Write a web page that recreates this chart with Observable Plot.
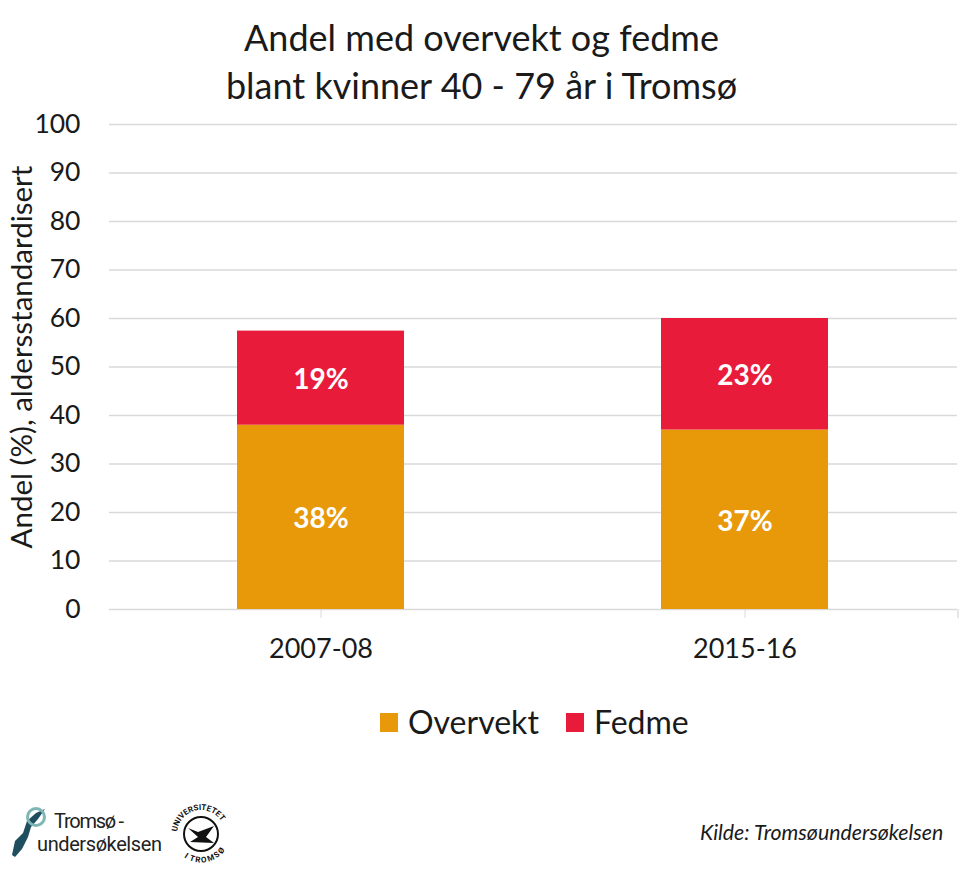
<!DOCTYPE html>
<html><head><meta charset="utf-8">
<script src="https://cdn.jsdelivr.net/npm/d3@7"></script>
<script src="https://cdn.jsdelivr.net/npm/@observablehq/plot@0.6"></script>
<style>
html,body{margin:0;padding:0;background:#fff;}
body{width:970px;height:873px;position:relative;overflow:hidden;font-family:Lato,sans-serif;color:#1a1a1a;}
#title{position:absolute;left:0;top:13px;width:963px;text-align:center;font-size:36px;line-height:48px;}
#chart{position:absolute;left:0;top:110px;}
#legend{position:absolute;top:704px;left:0;height:36px;width:970px;font-size:32px;line-height:36px;}
#legend span{position:absolute;white-space:nowrap;}
#legend i{position:absolute;width:18px;height:19px;top:9px;}
#source{position:absolute;left:700px;top:819px;font-size:21.3px;font-style:italic;white-space:nowrap;}
#logo{position:absolute;left:0;top:795px;}
</style></head><body>
<div id="title">Andel med overvekt og fedme<br>blant kvinner 40 - 79 år i Tromsø</div>
<div id="chart"></div>
<div id="legend"></div>
<div id="logo">
<svg width="240" height="75" viewBox="0 0 240 75" font-family="Roboto, sans-serif">
<path d="M12 60 L15 46 L23 38 L27 26 L36 18 L45 14 L38 24 L31 32 L28 42 L22 54 L15 62 Z" fill="#1f4e5f"/>
<circle cx="36" cy="22" r="8.5" fill="none" stroke="#7fb5b5" stroke-width="3"/>
<text x="54" y="33" font-size="20" textLength="70" fill="#222">Tromsø -</text>
<text x="37" y="56" font-size="20" textLength="125" fill="#222">undersøkelsen</text>
<circle cx="201" cy="39" r="17" fill="none" stroke="#111" stroke-width="2"/>
<path d="M188 33 L198 37 L214 31 L206 42 L214 48 L190 47 L198 42 Z" fill="#111"/>
<path id="sealArc" d="M177 39 A24 24 0 1 1 225 39" fill="none"/>
<path id="sealArc2" d="M181 50 A23 23 0 0 0 221 50" fill="none"/>
<text font-size="8" font-weight="700" fill="#111"><textPath href="#sealArc" startOffset="3%">UNIVERSITETET</textPath></text>
<text font-size="8" font-weight="700" fill="#111" dy="6"><textPath href="#sealArc2" startOffset="20%">I TROMSØ</textPath></text>
</svg></div>
<div id="source">Kilde: Tromsøundersøkelsen</div>
<script>
const periods = ["2007-08", "2015-16"];
const overvekt = [38, 37];
const fedme = [19.4, 23];
const seriesNames = ["Overvekt", "Fedme"];
const seriesColors = ["#e8990a", "#e81c3a"];
const yTicks = [0,10,20,30,40,50,60,70,80,90,100];
const yTitle = ["Andel (%), aldersstandardisert"];

const rows = periods.flatMap((p,i)=>[
  {period:p, series:seriesNames[0], value:overvekt[i]},
  {period:p, series:seriesNames[1], value:fedme[i]}
]);
const stackOpts = {x:"period", y:"value", z:"series", order:seriesNames};

const plot = Plot.plot({
  width:970, height:562,
  marginTop:14, marginBottom:63, marginLeft:109, marginRight:13,
  style:{fontFamily:"Lato, sans-serif", background:"transparent", color:"#1a1a1a"},
  x:{domain:periods, paddingInner:0.605, paddingOuter:0.3025, align:0.5, label:null},
  y:{domain:[0,100], label:null},
  color:{domain:seriesNames, range:seriesColors},
  marks:[
    Plot.ruleY(yTicks,{stroke:"#d9d9d9", strokeWidth:1.3}),
    Plot.barY(rows, Plot.stackY({...stackOpts, fill:"series"})),
    Plot.text(rows, Plot.stackY({...stackOpts, text:d=>Math.round(d.value)+"%", fill:"white", fontWeight:700, fontSize:28, dy:2})),
    Plot.axisY({ticks:yTicks, tickSize:0, tickPadding:29, fontSize:26.5, label:null}),
    Plot.axisX({tickSize:9, tickPadding:20, fontSize:27, stroke:"#d9d9d9", color:"#1a1a1a", label:null}),
    Plot.ruleX(periods.slice(-1), {y1:0, y2:-1.9, dx:213, stroke:"#d9d9d9", strokeWidth:1.3}),
    Plot.text(yTitle, {frameAnchor:"left", textAnchor:"middle", rotate:-90, dx:-87, dy:-10, fontSize:29.5, fill:"#1a1a1a"})
  ]
});
document.getElementById("chart").append(plot);
const legendSpec = [[seriesNames[0],seriesColors[0],380,408],[seriesNames[1],seriesColors[1],566,594]];
const lg = document.getElementById("legend");
for (const [name,col,bx,tx] of legendSpec){
  const i=document.createElement("i"); i.style.left=bx+"px"; i.style.background=col; lg.append(i);
  const s=document.createElement("span"); s.style.left=tx+"px"; s.textContent=name; lg.append(s);
}
</script>
</body></html>
